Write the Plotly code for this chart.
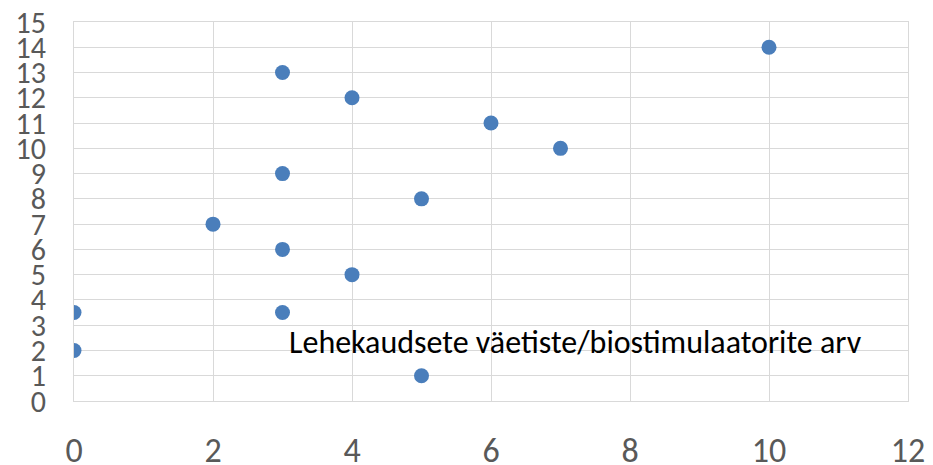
import plotly.graph_objects as go

x_vals = [0, 0, 2, 3, 3, 3, 3, 4, 4, 5, 5, 6, 7, 10]
y_vals = [3.5, 2, 7, 13, 9, 6, 3.5, 12, 5, 8, 1, 11, 10, 14]
x_title = "Lehekaudsete väetiste/biostimulaatorite arv"

fig = go.Figure()
fig.add_trace(go.Scatter(
    x=x_vals, y=y_vals, mode="markers",
    marker=dict(size=15, color="#4a7ebb"),
    showlegend=False, hoverinfo="x+y",
))

font_family = "Carlito, Calibri, 'Open Sans', sans-serif"

# page body has an 8px default margin, so the figure is shrunk by 8px
fig.update_layout(
    width=925, height=457,
    margin=dict(l=66, r=25, t=14, b=64),
    paper_bgcolor="white", plot_bgcolor="white",
    font=dict(family=font_family, color="#595959"),
    xaxis=dict(
        range=[0, 12], dtick=2, tick0=0,
        showgrid=True, gridcolor="#d9d9d9", gridwidth=1,
        zeroline=False, showline=True, linecolor="#d9d9d9", mirror=True,
        tickfont=dict(size=34, color="#595959"),
        ticks="", ticklabelstandoff=19, ticklabeloverflow="allow",
        automargin=False, fixedrange=True,
    ),
    yaxis=dict(
        range=[0, 15], dtick=1, tick0=0,
        showgrid=True, gridcolor="#d9d9d9", gridwidth=1,
        zeroline=False, showline=True, linecolor="#d9d9d9", mirror=True,
        tickfont=dict(size=30, color="#595959"),
        ticks="", ticklabelstandoff=21, ticklabeloverflow="allow",
        automargin=False, fixedrange=True,
    ),
    annotations=[dict(
        x=7.22, y=2.3, xref="x", yref="y",
        text=x_title, showarrow=False,
        font=dict(size=32, color="#000000", family=font_family),
        xanchor="center", yanchor="middle",
    )],
)

fig.write_html("out.html")
